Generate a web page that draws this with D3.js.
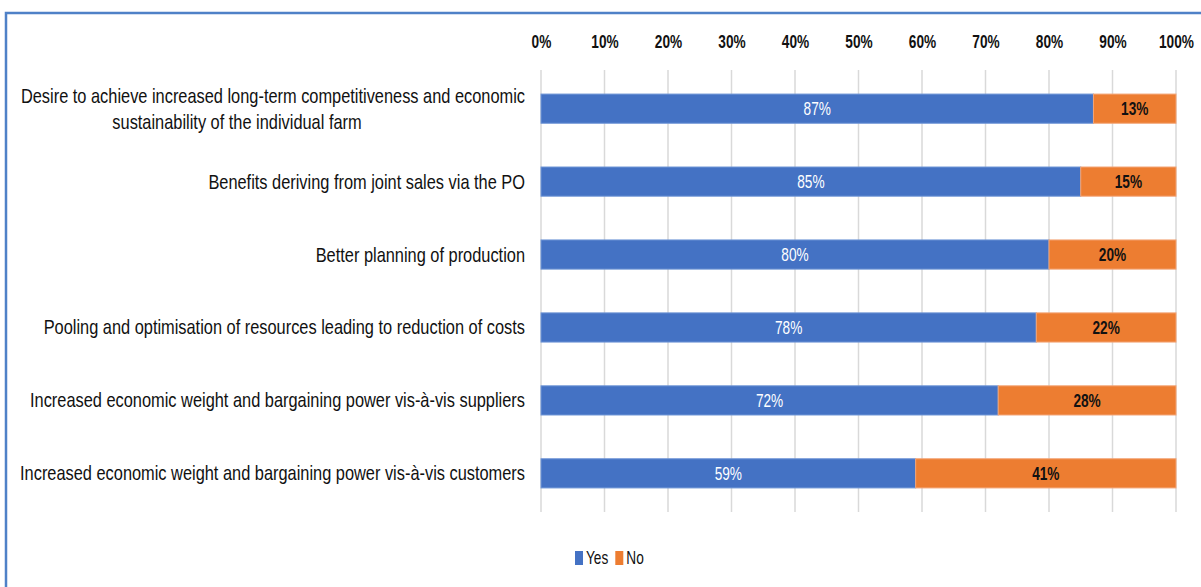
<!DOCTYPE html>
<html><head><meta charset="utf-8">
<script src="https://cdn.jsdelivr.net/npm/d3@7"></script>
<style>
html,body{margin:0;padding:0;background:#fff;}
svg{display:block;}
</style></head>
<body>
<svg id="chart" width="1201" height="587"></svg>
<script>
const categories = [
  ["Desire to achieve increased long-term competitiveness and economic", "sustainability of the individual farm"],
  ["Benefits deriving from joint sales via the PO"],
  ["Better planning of production"],
  ["Pooling and optimisation of resources leading to reduction of costs"],
  ["Increased economic weight and bargaining power vis-à-vis suppliers"],
  ["Increased economic weight and bargaining power vis-à-vis customers"]
];
const yesValues = [87, 85, 80, 78, 72, 59];
const noValues  = [13, 15, 20, 22, 28, 41];
const seriesNames = ["Yes", "No"];
const tickValues = [0,10,20,30,40,50,60,70,80,90,100];

const colors = {Yes:"#4472C4", No:"#ED7D31"};
const font = "'Liberation Sans', Arial, sans-serif";
const SX = 0.76; // horizontal condensation to mimic a narrow font

const svg = d3.select("#chart");
svg.append("path").attr("d","M6,590 L6,13 L1210,13").attr("fill","none")
  .attr("stroke","#4f81c7").attr("stroke-width",2.5);

const x = d3.scaleLinear().domain([0,100]).range([541,1176]);
const y = d3.scaleBand().domain(d3.range(categories.length)).range([70,512])
  .paddingInner(0.6).paddingOuter(0.33);

function ctext(parent, tx, ty, str, opts){
  const t = parent.append("text")
    .attr("transform",`translate(${tx},${ty}) scale(${opts.sx||SX},1)`)
    .attr("dy","0.35em").attr("text-anchor",opts.anchor||"middle")
    .attr("font-family",font).attr("font-size",opts.size||16)
    .attr("font-weight",opts.weight||"normal").attr("fill",opts.fill||"#111")
    .text(str);
  return t;
}

// gridlines
svg.append("g").selectAll("line").data(tickValues).join("line")
  .attr("x1",d=>x(d)).attr("x2",d=>x(d)).attr("y1",70).attr("y2",512)
  .attr("stroke","#d9d9d9").attr("stroke-width",1.5);

// top axis labels
const axis = d3.axisTop(x).tickValues(tickValues).tickFormat(d=>d+"%").tickSize(0).tickPadding(0);
const ax = svg.append("g").attr("transform","translate(0,42)").call(axis);
ax.select(".domain").remove();
ax.selectAll(".tick text").attr("font-family",font).attr("font-size",18).attr("font-weight","bold")
  .attr("fill","#111").attr("dy","0.35em").attr("y",0).attr("transform",`scale(${SX},1)`);

const rows = categories.map((c,i)=>({i, yes:yesValues[i], no:noValues[i]}));
const g = svg.append("g");
rows.forEach(r=>{
  const yy = y(r.i), h = y.bandwidth();
  g.append("rect").attr("x",x(0)).attr("y",yy).attr("width",x(r.yes)-x(0)).attr("height",h)
    .attr("fill",colors.Yes).attr("stroke","#7096d6").attr("stroke-width",1);
  g.append("rect").attr("x",x(r.yes)).attr("y",yy).attr("width",x(r.yes+r.no)-x(r.yes)).attr("height",h)
    .attr("fill",colors.No).attr("stroke","#f3a577").attr("stroke-width",1);
  ctext(g,(x(0)+x(r.yes))/2, yy+h/2, r.yes+"%", {size:18, fill:"#fff"});
  ctext(g,(x(r.yes)+x(r.yes+r.no))/2, yy+h/2, r.no+"%", {size:18, weight:"bold"});
});

// category labels, condensed to fit the label area
const labels = svg.append("g");
const labelTexts = [];
categories.forEach((lines,i)=>{
  const cy = y(i)+y.bandwidth()/2;
  if(lines.length===1){
    labelTexts.push({t:ctext(labels,525,cy,lines[0],{size:20, anchor:"end"}), x:525, y:cy});
  } else {
    labelTexts.push({t:ctext(labels,525,cy-13,lines[0],{size:20, anchor:"end"}), x:525, y:cy-13});
    labelTexts.push({t:ctext(labels,237,cy+13,lines[1],{size:20, anchor:"middle"}), x:237, y:cy+13});
  }
});
const maxW = d3.max(labelTexts, d=>d.t.node().getComputedTextLength());
const lsx = 505/maxW;
labelTexts.forEach(d=>d.t.attr("transform",`translate(${d.x},${d.y}) scale(${lsx},1)`));

// legend
const lg = svg.append("g").attr("transform","translate(575,558)");
let lx = 0;
seriesNames.forEach(s=>{
  lg.append("rect").attr("x",lx).attr("y",-7).attr("width",8).attr("height",14).attr("fill",colors[s]);
  const t = ctext(lg, lx+11, 0, s, {size:18, anchor:"start"});
  lx += 11 + t.node().getComputedTextLength()*SX + 7;
});
</script>
</body></html>
